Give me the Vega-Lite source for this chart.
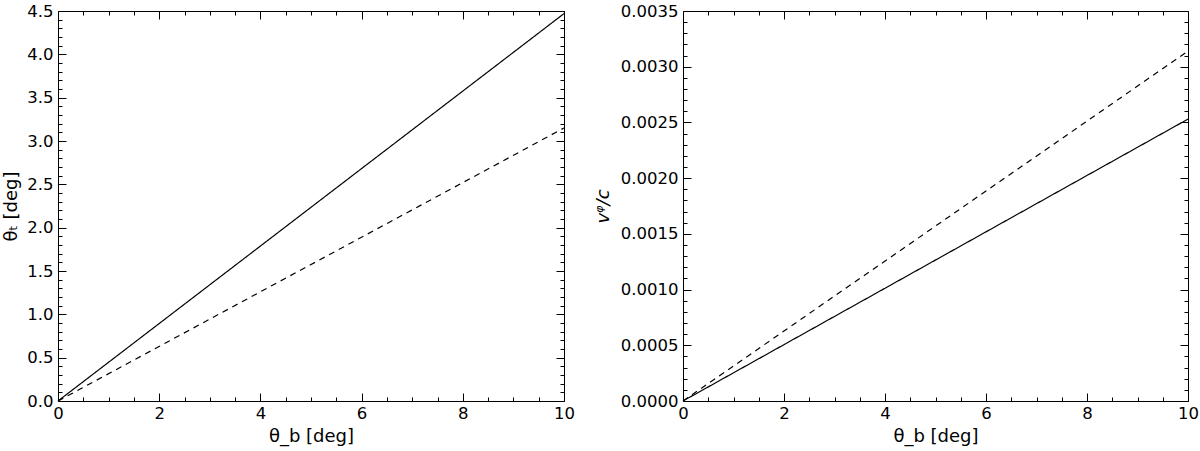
{
  "$schema": "https://vega.github.io/schema/vega-lite/v6.json",
  "background": "white",
  "padding": {"left": 2, "top": 2, "right": 2, "bottom": 2},
  "datasets": {
    "left": [
      {"theta_b": 0, "value": 0, "series": "solid"},
      {"theta_b": 10, "value": 4.47, "series": "solid"},
      {"theta_b": 0, "value": 0, "series": "dashed"},
      {"theta_b": 10, "value": 3.15, "series": "dashed"}
    ],
    "right": [
      {"theta_b": 0, "value": 0, "series": "solid"},
      {"theta_b": 10, "value": 0.00253, "series": "solid"},
      {"theta_b": 0, "value": 0, "series": "dashed"},
      {"theta_b": 10, "value": 0.00314, "series": "dashed"}
    ]
  },
  "config": {
    "view": {"stroke": "black", "strokeWidth": 1},
    "axis": {
      "labelFont": "DejaVu Sans", "labelFontSize": 16.5, "labelColor": "black",
      "titleFont": "DejaVu Sans", "titleFontSize": 18, "titleFontWeight": "normal", "titleColor": "black",
      "domain": false, "grid": false, "tickColor": "black", "tickWidth": 1
    }
  },
  "spacing": 18,
  "hconcat": [
    {
      "width": 506, "height": 390,
      "data": {"name": "left"},
      "resolve": {"axis": {"x": "independent", "y": "independent"}},
      "layer": [
        {
          "mark": {"type": "line", "color": "black", "strokeWidth": 1.2},
          "encoding": {
            "x": {"field": "theta_b", "type": "quantitative", "scale": {"domain": [0, 10], "nice": false},
              "axis": {"orient": "bottom", "title": "θ_b  [deg]", "values": [0, 2, 4, 6, 8, 10], "format": "d", "tickSize": -8, "labelPadding": 12, "labelFlush": false, "titlePadding": 6}},
            "y": {"field": "value", "type": "quantitative", "scale": {"domain": [0, 4.5], "nice": false},
              "axis": {"orient": "left", "title": "θₜ [deg]", "values": [0, 0.5, 1, 1.5, 2, 2.5, 3, 3.5, 4, 4.5], "format": ".1f", "tickSize": -8, "labelPadding": 13, "labelFlush": false, "titlePadding": 6}},
            "strokeDash": {"field": "series", "type": "nominal", "scale": {"domain": ["solid", "dashed"], "range": [[1, 0], [6, 5]]}, "legend": null}
          }
        },
        {
          "mark": {"type": "line", "strokeOpacity": 0},
          "encoding": {
            "x": {"field": "theta_b", "type": "quantitative", "scale": {"domain": [0, 10], "nice": false},
              "axis": {"orient": "top", "title": null, "labels": false, "values": [0, 2, 4, 6, 8, 10], "tickSize": -8}},
            "y": {"field": "value", "type": "quantitative", "scale": {"domain": [0, 4.5], "nice": false},
              "axis": {"orient": "right", "title": null, "labels": false, "values": [0, 0.5, 1, 1.5, 2, 2.5, 3, 3.5, 4, 4.5], "tickSize": -8}},
            "detail": {"field": "series"}
          }
        },
        {
          "mark": {"type": "line", "strokeOpacity": 0},
          "encoding": {
            "x": {"field": "theta_b", "type": "quantitative", "scale": {"domain": [0, 10], "nice": false},
              "axis": {"orient": "bottom", "title": null, "labels": false, "values": [0.5, 1, 1.5, 2.5, 3, 3.5, 4.5, 5, 5.5, 6.5, 7, 7.5, 8.5, 9, 9.5], "tickSize": -4}},
            "y": {"field": "value", "type": "quantitative", "scale": {"domain": [0, 4.5], "nice": false},
              "axis": {"orient": "left", "title": null, "labels": false, "values": [0.1, 0.2, 0.3, 0.4, 0.6, 0.7, 0.8, 0.9, 1.1, 1.2, 1.3, 1.4, 1.6, 1.7, 1.8, 1.9, 2.1, 2.2, 2.3, 2.4, 2.6, 2.7, 2.8, 2.9, 3.1, 3.2, 3.3, 3.4, 3.6, 3.7, 3.8, 3.9, 4.1, 4.2, 4.3, 4.4], "tickSize": -4}},
            "detail": {"field": "series"}
          }
        },
        {
          "mark": {"type": "line", "strokeOpacity": 0},
          "encoding": {
            "x": {"field": "theta_b", "type": "quantitative", "scale": {"domain": [0, 10], "nice": false},
              "axis": {"orient": "top", "title": null, "labels": false, "values": [0.5, 1, 1.5, 2.5, 3, 3.5, 4.5, 5, 5.5, 6.5, 7, 7.5, 8.5, 9, 9.5], "tickSize": -4}},
            "y": {"field": "value", "type": "quantitative", "scale": {"domain": [0, 4.5], "nice": false},
              "axis": {"orient": "right", "title": null, "labels": false, "values": [0.1, 0.2, 0.3, 0.4, 0.6, 0.7, 0.8, 0.9, 1.1, 1.2, 1.3, 1.4, 1.6, 1.7, 1.8, 1.9, 2.1, 2.2, 2.3, 2.4, 2.6, 2.7, 2.8, 2.9, 3.1, 3.2, 3.3, 3.4, 3.6, 3.7, 3.8, 3.9, 4.1, 4.2, 4.3, 4.4], "tickSize": -4}},
            "detail": {"field": "series"}
          }
        }
      ]
    },
    {
      "width": 505, "height": 390,
      "data": {"name": "right"},
      "resolve": {"axis": {"x": "independent", "y": "independent"}},
      "layer": [
        {
          "mark": {"type": "line", "color": "black", "strokeWidth": 1.2},
          "encoding": {
            "x": {"field": "theta_b", "type": "quantitative", "scale": {"domain": [0, 10], "nice": false},
              "axis": {"orient": "bottom", "title": "θ_b [deg]", "values": [0, 2, 4, 6, 8, 10], "format": "d", "tickSize": -8, "labelPadding": 12, "labelFlush": false, "titlePadding": 6}},
            "y": {"field": "value", "type": "quantitative", "scale": {"domain": [0, 0.0035], "nice": false},
              "axis": {"orient": "left", "title": "vᵠ/c", "titleFontStyle": "italic", "values": [0, 0.0005, 0.001, 0.0015, 0.002, 0.0025, 0.003, 0.0035], "format": ".4f", "tickSize": -8, "labelPadding": 13, "labelFlush": false, "titlePadding": 8}},
            "strokeDash": {"field": "series", "type": "nominal", "scale": {"domain": ["solid", "dashed"], "range": [[1, 0], [6, 5]]}, "legend": null}
          }
        },
        {
          "mark": {"type": "line", "strokeOpacity": 0},
          "encoding": {
            "x": {"field": "theta_b", "type": "quantitative", "scale": {"domain": [0, 10], "nice": false},
              "axis": {"orient": "top", "title": null, "labels": false, "values": [0, 2, 4, 6, 8, 10], "tickSize": -8}},
            "y": {"field": "value", "type": "quantitative", "scale": {"domain": [0, 0.0035], "nice": false},
              "axis": {"orient": "right", "title": null, "labels": false, "values": [0, 0.0005, 0.001, 0.0015, 0.002, 0.0025, 0.003, 0.0035], "tickSize": -8}},
            "detail": {"field": "series"}
          }
        },
        {
          "mark": {"type": "line", "strokeOpacity": 0},
          "encoding": {
            "x": {"field": "theta_b", "type": "quantitative", "scale": {"domain": [0, 10], "nice": false},
              "axis": {"orient": "bottom", "title": null, "labels": false, "values": [0.5, 1, 1.5, 2.5, 3, 3.5, 4.5, 5, 5.5, 6.5, 7, 7.5, 8.5, 9, 9.5], "tickSize": -4}},
            "y": {"field": "value", "type": "quantitative", "scale": {"domain": [0, 0.0035], "nice": false},
              "axis": {"orient": "left", "title": null, "labels": false, "values": [0.0001, 0.0002, 0.0003, 0.0004, 0.0006, 0.0007, 0.0008, 0.0009, 0.0011, 0.0012, 0.0013, 0.0014, 0.0016, 0.0017, 0.0018, 0.0019, 0.0021, 0.0022, 0.0023, 0.0024, 0.0026, 0.0027, 0.0028, 0.0029, 0.0031, 0.0032, 0.0033, 0.0034], "tickSize": -4}},
            "detail": {"field": "series"}
          }
        },
        {
          "mark": {"type": "line", "strokeOpacity": 0},
          "encoding": {
            "x": {"field": "theta_b", "type": "quantitative", "scale": {"domain": [0, 10], "nice": false},
              "axis": {"orient": "top", "title": null, "labels": false, "values": [0.5, 1, 1.5, 2.5, 3, 3.5, 4.5, 5, 5.5, 6.5, 7, 7.5, 8.5, 9, 9.5], "tickSize": -4}},
            "y": {"field": "value", "type": "quantitative", "scale": {"domain": [0, 0.0035], "nice": false},
              "axis": {"orient": "right", "title": null, "labels": false, "values": [0.0001, 0.0002, 0.0003, 0.0004, 0.0006, 0.0007, 0.0008, 0.0009, 0.0011, 0.0012, 0.0013, 0.0014, 0.0016, 0.0017, 0.0018, 0.0019, 0.0021, 0.0022, 0.0023, 0.0024, 0.0026, 0.0027, 0.0028, 0.0029, 0.0031, 0.0032, 0.0033, 0.0034], "tickSize": -4}},
            "detail": {"field": "series"}
          }
        }
      ]
    }
  ]
}
